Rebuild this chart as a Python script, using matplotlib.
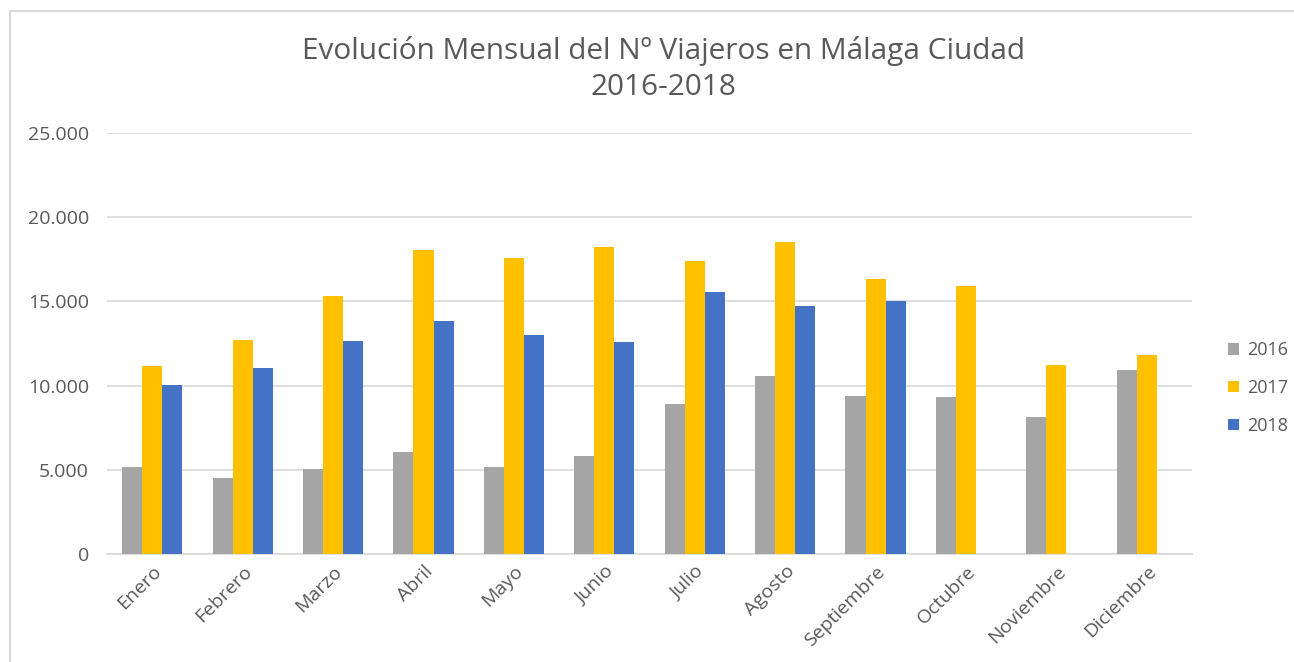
import numpy as np
import matplotlib
matplotlib.use("Agg")
import matplotlib.pyplot as plt
from matplotlib.ticker import FuncFormatter
from matplotlib.lines import Line2D

# datos (numero de viajeros por mes)
meses = ["Enero", "Febrero", "Marzo", "Abril", "Mayo", "Junio", "Julio",
         "Agosto", "Septiembre", "Octubre", "Noviembre", "Diciembre"]
v2016 = [5190, 4540, 5050, 6080, 5190, 5820, 8910, 10590, 9370, 9310, 8140, 10910]
v2017 = [11190, 12710, 15310, 18060, 17560, 18260, 17370, 18520, 16320, 15940, 11230, 11820]
v2018 = [10020, 11030, 12650, 13820, 12990, 12590, 15560, 14730, 15050]  # hasta septiembre
años = ["2016", "2017", "2018"]
colores = ["#A5A5A5", "#FFC000", "#4472C4"]

plt.rcParams["font.family"] = ["Open Sans", "DejaVu Sans"]
gris = "#595959"

fig = plt.figure(figsize=(12.94, 6.62), dpi=100)
ax = fig.add_axes([0.0827, 0.1631, 0.8385, 0.636])

x = np.arange(len(meses))
w = 1 / 4.5
for i, (vals, lab, col) in enumerate(zip([v2016, v2017, v2018], años, colores)):
    xs = x[:len(vals)] + (i - 1) * w
    ax.bar(xs, vals, width=w, color=col, label=lab, zorder=3)

ax.set_xlim(-0.5, 11.5)
ax.set_ylim(0, 25000)
ax.set_yticks(np.arange(0, 25001, 5000))
ax.yaxis.set_major_formatter(FuncFormatter(lambda v, p: f"{int(v):,}".replace(",", ".")))
ax.grid(axis="y", color="#D9D9D9", linewidth=1.2, zorder=0)
for s in ["top", "right", "left"]:
    ax.spines[s].set_visible(False)
ax.spines["bottom"].set_color("#D9D9D9")
ax.spines["bottom"].set_linewidth(1.2)
ax.tick_params(axis="both", length=0, labelsize=14, colors=gris)
ax.tick_params(axis="y", pad=13)
ax.tick_params(axis="x", pad=6)
ax.set_xticks(x)
ax.set_xticklabels(meses, rotation=45, ha="right", rotation_mode="anchor")

fig.text(0.5124, 1 - 69 / 662, "Evolución Mensual del Nº Viajeros en Málaga Ciudad\n2016-2018",
         ha="center", va="center", fontsize=21.4, color=gris, linespacing=1.28)

fig.legend(loc="center left", bbox_to_anchor=(1228 / 1294, 1 - 388 / 662), frameon=False,
           borderpad=0, borderaxespad=0, fontsize=13, labelcolor=gris,
           handlelength=0.6, handleheight=0.6, handletextpad=0.45, labelspacing=1.1)

# marco del grafico
fig.add_artist(Line2D([10 / 1294, 10 / 1294], [0, 1 - 11 / 662], color="#D9D9D9", linewidth=1.5))
fig.add_artist(Line2D([10 / 1294, 1], [1 - 11 / 662, 1 - 11 / 662], color="#D9D9D9", linewidth=1.5))

fig.savefig("out.png", dpi=100)
